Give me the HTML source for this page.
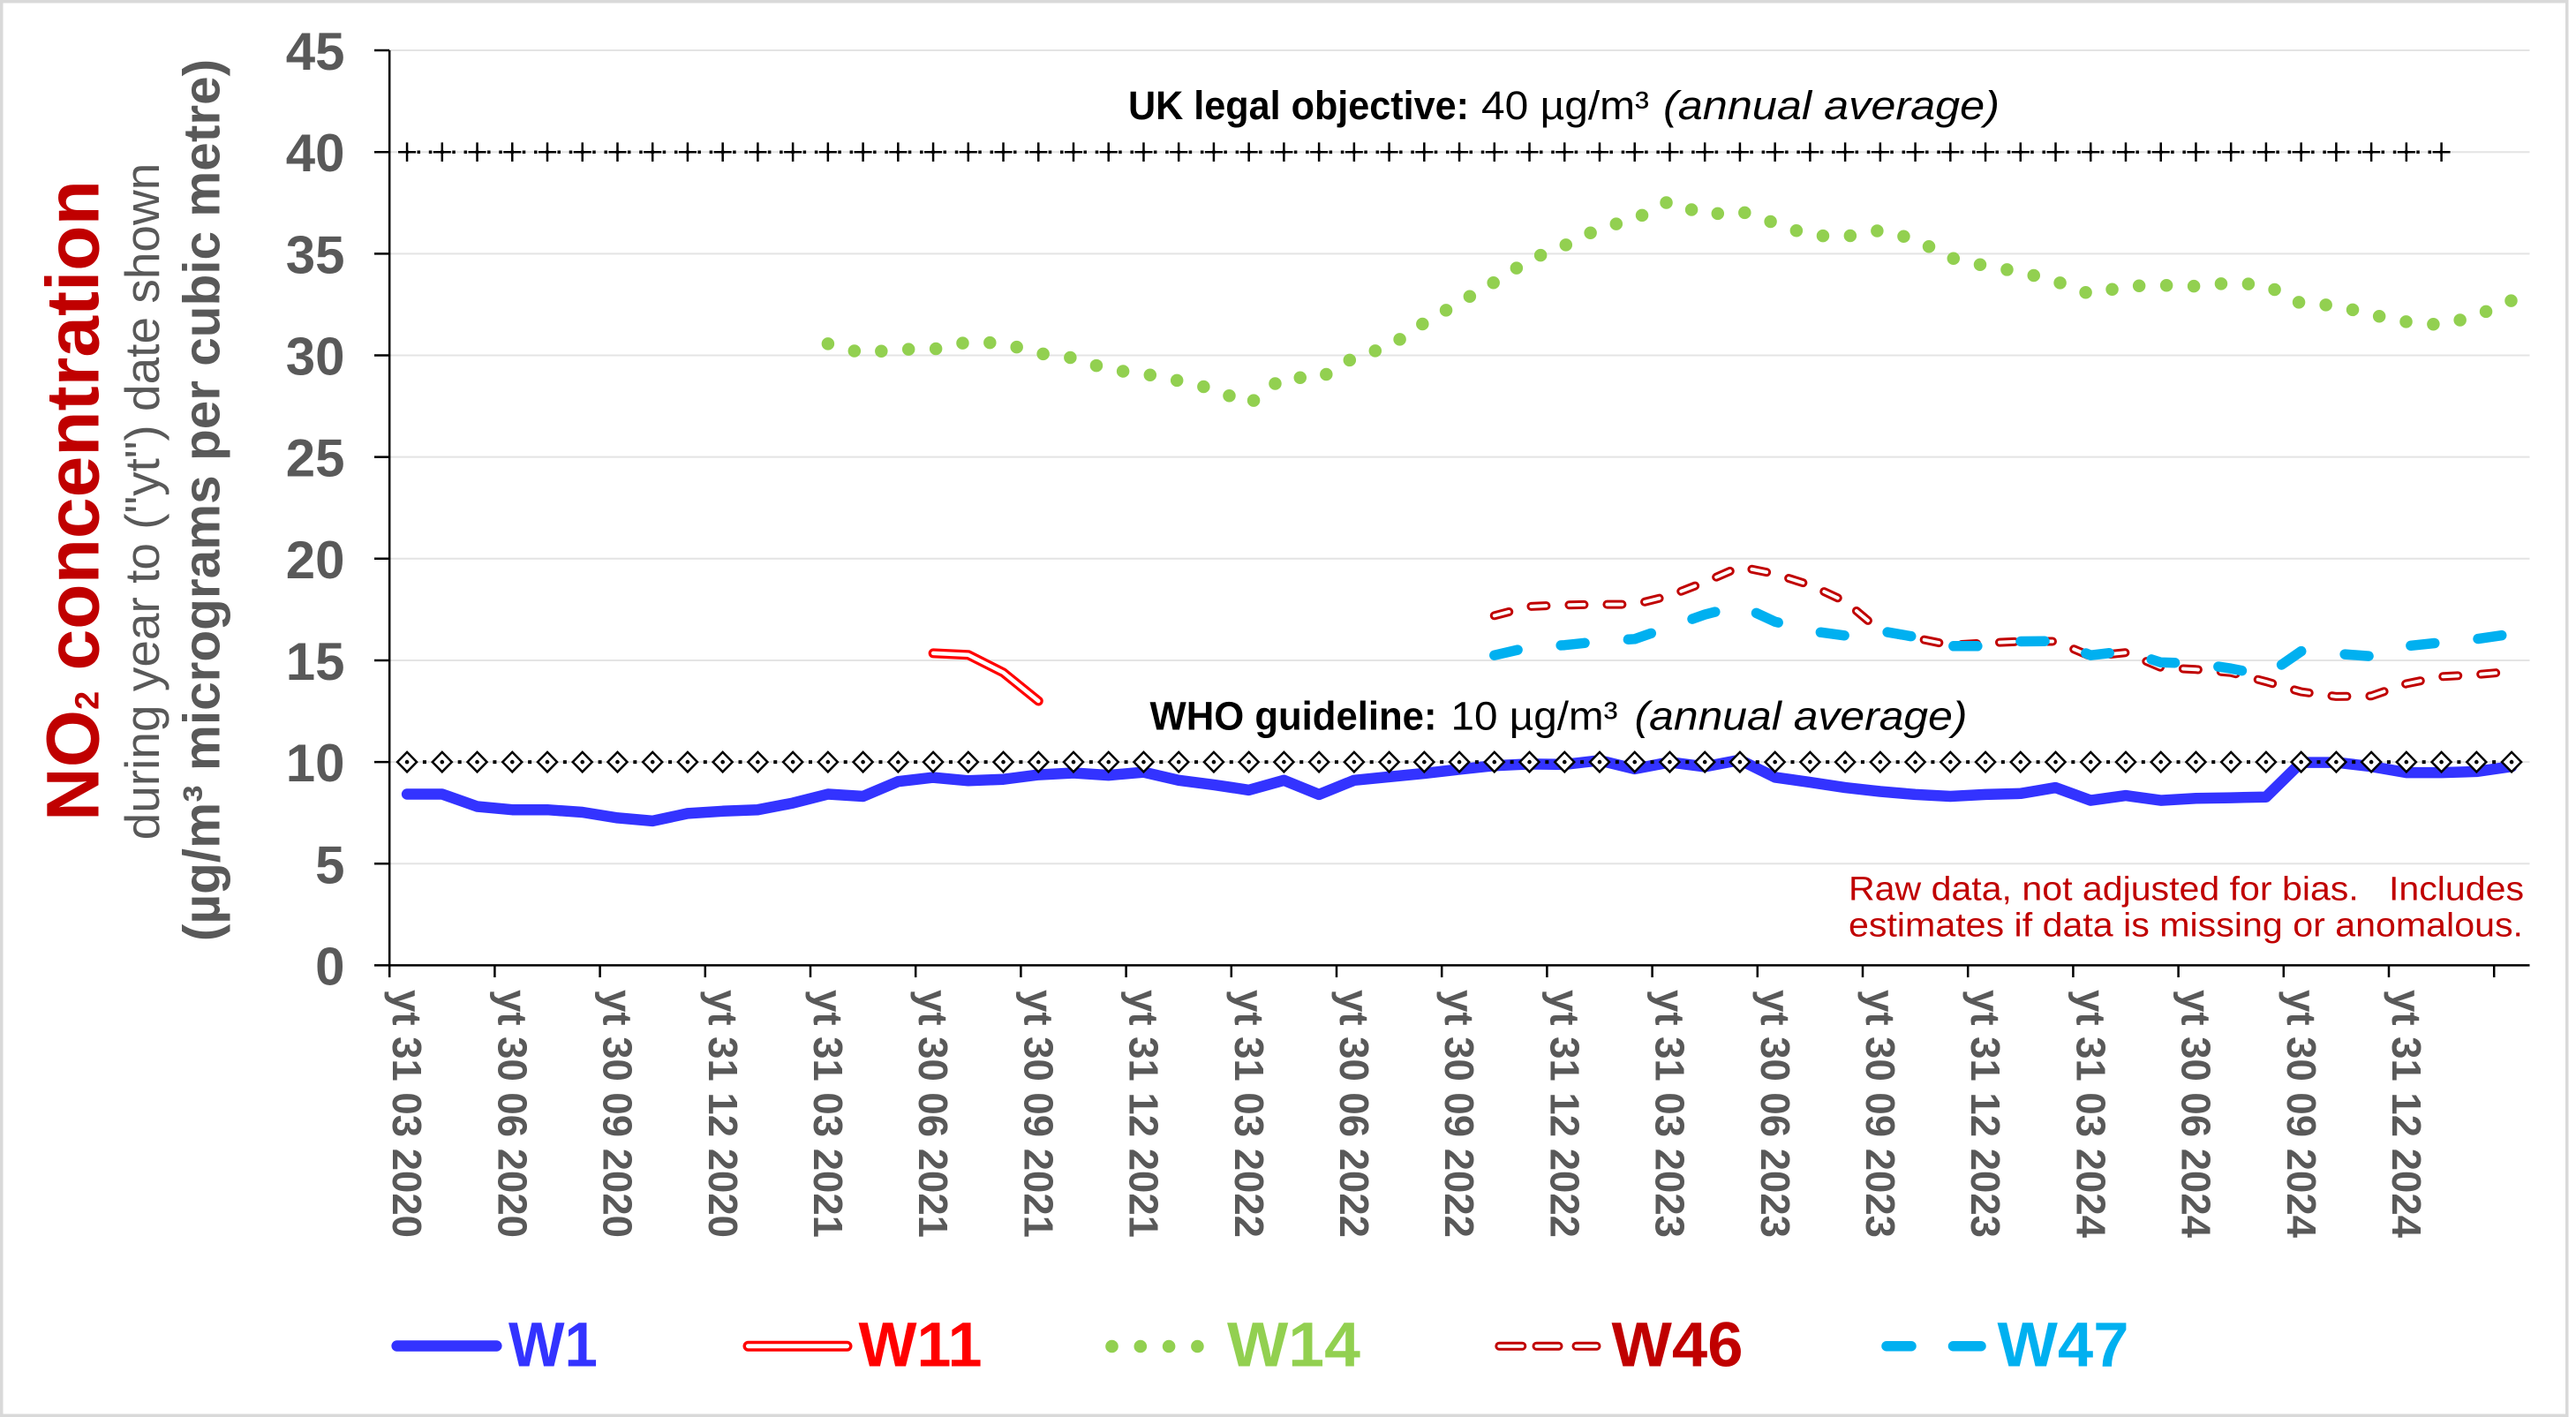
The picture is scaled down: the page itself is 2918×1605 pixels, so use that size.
<!DOCTYPE html>
<html><head><meta charset="utf-8"><title>NO2 concentration chart</title>
<style>
html,body{margin:0;padding:0;background:#fff;}
svg{display:block;font-family:"Liberation Sans",Arial,sans-serif;}
</style></head>
<body>
<svg xmlns="http://www.w3.org/2000/svg" width="2918" height="1605" viewBox="0 0 2918 1605">
<defs>
<marker id="plus" markerUnits="userSpaceOnUse" markerWidth="30" markerHeight="30" refX="15" refY="15" orient="0" overflow="visible">
<path d="M15 4.2V25.8M5 15H25" stroke="#000" stroke-width="2.5" stroke-dasharray="none" fill="none"/>
</marker>
<marker id="dia" markerUnits="userSpaceOnUse" markerWidth="30" markerHeight="30" refX="15" refY="15" orient="0" overflow="visible">
<path d="M15 3.8L26 15L15 26.2L4 15Z" fill="#fff" stroke="#000" stroke-width="2.5" stroke-dasharray="none"/>
<circle cx="15" cy="15" r="2.3" fill="#000"/>
</marker>
</defs>
<rect x="0" y="0" width="2918" height="1605" fill="#fff"/>
<rect x="1.75" y="1.75" width="2906" height="1601.5" fill="none" stroke="#D9D9D9" stroke-width="3.5"/>

<!-- gridlines -->
<g stroke="#E4E4E4" stroke-width="2" fill="none">
<path d="M442 57.05H2865.5M442 172.2H2865.5M442 287.35H2865.5M442 402.5H2865.5M442 517.65H2865.5M442 632.8H2865.5M442 747.95H2865.5M442 863.1H2865.5M442 978.25H2865.5"/>
</g>

<!-- Y axis title -->
<text transform="translate(111.7 567) rotate(-90)" text-anchor="middle" font-size="84" font-weight="bold" fill="#C00000">NO<tspan font-size="38">2</tspan> concentration</text>
<text transform="translate(180 568) rotate(-90)" text-anchor="middle" font-size="55" fill="#595959">during year to ("yt") date shown</text>
<text transform="translate(248.3 566.5) rotate(-90)" text-anchor="middle" font-size="58.5" font-weight="bold" fill="#595959">(&#181;g/m&#179; micrograms per cubic metre)</text>

<!-- Y tick labels -->
<g font-size="60" font-weight="bold" fill="#595959" text-anchor="end">
<text x="390.5" y="79.05">45</text>
<text x="390.5" y="194.2">40</text>
<text x="390.5" y="309.35">35</text>
<text x="390.5" y="424.5">30</text>
<text x="390.5" y="539.65">25</text>
<text x="390.5" y="654.8">20</text>
<text x="390.5" y="770">15</text>
<text x="390.5" y="885.1">10</text>
<text x="390.5" y="1000.25">5</text>
<text x="390.5" y="1115.4">0</text>
</g>

<!-- W1 -->
<path fill="none" stroke="#3333FF" stroke-width="12.5" stroke-linecap="round" stroke-linejoin="round" d="M461.1 899.5 L500.8 899.5 L540.5 913.5 L580.3 917.2 L620.0 917.2 L659.7 920.0 L699.5 926.4 L739.2 929.9 L778.9 921.4 L818.7 918.8 L858.4 917.2 L898.1 909.6 L937.9 899.5 L977.6 902.0 L1017.3 885.2 L1057.1 880.6 L1096.8 884.3 L1136.5 882.7 L1176.3 877.6 L1216.0 875.5 L1255.7 878.1 L1295.5 874.6 L1335.2 883.8 L1374.9 888.9 L1414.7 894.9 L1454.4 883.8 L1494.1 899.9 L1533.9 883.8 L1573.6 879.9 L1613.3 876.0 L1653.1 871.4 L1692.8 867.2 L1732.5 865.4 L1772.3 865.9 L1812.0 861.3 L1851.7 870.9 L1891.5 863.3 L1931.2 868.4 L1970.9 860.8 L2010.7 880.4 L2050.4 886.1 L2090.1 892.1 L2129.9 896.5 L2169.6 899.9 L2209.3 902.0 L2249.1 899.9 L2288.8 898.8 L2328.5 892.1 L2368.3 906.6 L2408.0 901.1 L2447.7 906.6 L2487.5 904.3 L2527.2 903.6 L2566.9 902.7 L2606.7 863.6 L2646.4 863.6 L2686.1 868.2 L2725.9 875.1 L2765.6 875.1 L2805.3 873.9 L2845.1 868.2"/>

<!-- W11 -->
<path fill="none" stroke="#FF0000" stroke-width="11" stroke-linecap="round" stroke-linejoin="round" d="M1057.1 739.9 L1096.8 741.7 L1136.5 761.8 L1176.3 794.0"/>
<path fill="none" stroke="#FFFFFF" stroke-width="4.5" stroke-linecap="round" stroke-linejoin="round" d="M1057.1 739.9 L1096.8 741.7 L1136.5 761.8 L1176.3 794.0"/>

<!-- W14 -->
<path fill="none" stroke="#92D050" stroke-width="14.5" stroke-linecap="round" stroke-linejoin="round" stroke-dasharray="0 31" d="M937.9 389.4 L977.6 400.2 L1017.3 395.6 L1057.1 395.6 L1096.8 387.3 L1136.5 388.7 L1176.3 400.2 L1216.0 405.5 L1255.7 418.6 L1295.5 423.2 L1335.2 431.3 L1374.9 440.7 L1414.7 457.8 L1454.4 426.7 L1494.1 429.0 L1533.9 404.8 L1573.6 392.4 L1613.3 365.7 L1653.1 342.6 L1692.8 319.6 L1732.5 294.3 L1772.3 278.1 L1812.0 258.6 L1851.7 248.2 L1891.5 227.5 L1931.2 243.6 L1970.9 239.0 L2010.7 252.8 L2050.4 266.6 L2090.1 268.0 L2129.9 260.9 L2169.6 271.2 L2209.3 292.0 L2249.1 301.2 L2288.8 308.1 L2328.5 318.4 L2368.3 333.4 L2408.0 324.2 L2447.7 323.0 L2487.5 324.2 L2527.2 320.3 L2566.9 323.0 L2606.7 343.8 L2646.4 346.1 L2686.1 356.4 L2725.9 364.5 L2765.6 368.0 L2805.3 357.6 L2845.1 340.3"/>

<!-- W46 -->
<path fill="none" stroke="#C00000" stroke-width="10" stroke-linecap="round" stroke-linejoin="round" stroke-dasharray="17 26" d="M1692.8 697.3 L1732.5 686.9 L1772.3 685.3 L1812.0 684.6 L1851.7 684.6 L1891.5 674.7 L1931.2 659.3 L1970.9 642.0 L2010.7 650.1 L2050.4 662.7 L2090.1 681.2 L2129.9 714.6 L2169.6 722.6 L2209.3 730.7 L2249.1 728.4 L2288.8 726.5 L2328.5 726.5 L2368.3 743.3 L2408.0 739.2 L2447.7 756.0 L2487.5 758.3 L2527.2 761.8 L2566.9 772.1 L2606.7 783.6 L2646.4 788.9 L2686.1 788.3 L2725.9 774.4 L2765.6 766.4 L2805.3 764.1 L2845.1 760.6"/>
<path fill="none" stroke="#FFFFFF" stroke-width="4" stroke-linecap="round" stroke-linejoin="round" stroke-dasharray="17 26" d="M1692.8 697.3 L1732.5 686.9 L1772.3 685.3 L1812.0 684.6 L1851.7 684.6 L1891.5 674.7 L1931.2 659.3 L1970.9 642.0 L2010.7 650.1 L2050.4 662.7 L2090.1 681.2 L2129.9 714.6 L2169.6 722.6 L2209.3 730.7 L2249.1 728.4 L2288.8 726.5 L2328.5 726.5 L2368.3 743.3 L2408.0 739.2 L2447.7 756.0 L2487.5 758.3 L2527.2 761.8 L2566.9 772.1 L2606.7 783.6 L2646.4 788.9 L2686.1 788.3 L2725.9 774.4 L2765.6 766.4 L2805.3 764.1 L2845.1 760.6"/>

<!-- W47 -->
<path fill="none" stroke="#00B0F0" stroke-width="11.5" stroke-linecap="round" stroke-linejoin="round" stroke-dasharray="27 49.5" d="M1692.8 742.2 L1732.5 733.0 L1772.3 730.7 L1812.0 726.5 L1851.7 723.8 L1891.5 710.0 L1931.2 696.1 L1970.9 685.8 L2010.7 704.2 L2050.4 714.6 L2090.1 719.9 L2129.9 714.6 L2169.6 721.5 L2209.3 731.8 L2249.1 731.8 L2288.8 726.5 L2328.5 726.1 L2368.3 742.2 L2408.0 737.6 L2447.7 750.3 L2487.5 751.4 L2527.2 757.2 L2566.9 765.2 L2606.7 737.6 L2646.4 740.4 L2686.1 743.3 L2725.9 731.8 L2765.6 727.7 L2805.3 723.8 L2845.1 718.0"/>

<!-- WHO guideline line -->
<path fill="none" stroke="#000" stroke-width="4" stroke-dasharray="4 15.866" stroke-dashoffset="2" marker-start="url(#dia)" marker-mid="url(#dia)" marker-end="url(#dia)" d="M461.07 863.1 h39.733 h39.733 h39.733 h39.733 h39.733 h39.733 h39.733 h39.733 h39.733 h39.733 h39.733 h39.733 h39.733 h39.733 h39.733 h39.733 h39.733 h39.733 h39.733 h39.733 h39.733 h39.733 h39.733 h39.733 h39.733 h39.733 h39.733 h39.733 h39.733 h39.733 h39.733 h39.733 h39.733 h39.733 h39.733 h39.733 h39.733 h39.733 h39.733 h39.733 h39.733 h39.733 h39.733 h39.733 h39.733 h39.733 h39.733 h39.733 h39.733 h39.733 h39.733 h39.733 h39.733 h39.733 h39.733 h39.733 h39.733 h39.733 h39.733 h39.733"/>

<!-- UK legal objective line -->
<path fill="none" stroke="#000" stroke-width="3.5" stroke-dasharray="3.5 9.744" stroke-dashoffset="1.75" marker-start="url(#plus)" marker-mid="url(#plus)" marker-end="url(#plus)" d="M461.07 172.2 h39.733 h39.733 h39.733 h39.733 h39.733 h39.733 h39.733 h39.733 h39.733 h39.733 h39.733 h39.733 h39.733 h39.733 h39.733 h39.733 h39.733 h39.733 h39.733 h39.733 h39.733 h39.733 h39.733 h39.733 h39.733 h39.733 h39.733 h39.733 h39.733 h39.733 h39.733 h39.733 h39.733 h39.733 h39.733 h39.733 h39.733 h39.733 h39.733 h39.733 h39.733 h39.733 h39.733 h39.733 h39.733 h39.733 h39.733 h39.733 h39.733 h39.733 h39.733 h39.733 h39.733 h39.733 h39.733 h39.733 h39.733 h39.733"/>

<!-- Annotations -->
<g font-size="45" fill="#000">
<text x="1278" y="135" font-weight="bold" textLength="386" lengthAdjust="spacingAndGlyphs">UK legal objective:</text>
<text x="1678" y="135" textLength="190" lengthAdjust="spacingAndGlyphs">40 &#181;g/m&#179;</text>
<text x="1884" y="135" font-style="italic" textLength="381" lengthAdjust="spacingAndGlyphs">(annual average)</text>
<text x="1302.5" y="826.5" font-weight="bold" textLength="325" lengthAdjust="spacingAndGlyphs">WHO guideline:</text>
<text x="1643.5" y="826.5" textLength="189" lengthAdjust="spacingAndGlyphs">10 &#181;g/m&#179;</text>
<text x="1851.5" y="826.5" font-style="italic" textLength="377" lengthAdjust="spacingAndGlyphs">(annual average)</text>
</g>

<g font-size="38" fill="#C00000">
<text x="2094" y="1019.3" xml:space="preserve" textLength="765" lengthAdjust="spacingAndGlyphs">Raw data, not adjusted for bias.&#160;&#160;&#160;Includes</text>
<text x="2094" y="1060.7" textLength="764" lengthAdjust="spacingAndGlyphs">estimates if data is missing or anomalous.</text>
</g>

<!-- Axes -->
<g stroke="#000" stroke-width="2.5" fill="none">
<path d="M441.2 57 V1093.4"/>
<path d="M424 1093.4 H2865.5"/>
<path d="M424 57.05H441.2M424 172.2H441.2M424 287.35H441.2M424 402.5H441.2M424 517.65H441.2M424 632.8H441.2M424 747.95H441.2M424 863.1H441.2M424 978.25H441.2"/>
<path d="M441.2 1093.4V1107M560.4 1093.4V1107M679.6 1093.4V1107M798.8 1093.4V1107M918.0 1093.4V1107M1037.2 1093.4V1107M1156.4 1093.4V1107M1275.6 1093.4V1107M1394.8 1093.4V1107M1514.0 1093.4V1107M1633.2 1093.4V1107M1752.4 1093.4V1107M1871.6 1093.4V1107M1990.8 1093.4V1107M2110.0 1093.4V1107M2229.2 1093.4V1107M2348.4 1093.4V1107M2467.6 1093.4V1107M2586.8 1093.4V1107M2706.0 1093.4V1107M2825.2 1093.4V1107"/>
</g>

<!-- X labels -->
<g font-size="46" font-weight="bold" fill="#595959">
<text transform="translate(445.2 1121) rotate(90)" textLength="281" lengthAdjust="spacingAndGlyphs">yt 31 03 2020</text>
<text transform="translate(564.4 1121) rotate(90)" textLength="281" lengthAdjust="spacingAndGlyphs">yt 30 06 2020</text>
<text transform="translate(683.6 1121) rotate(90)" textLength="281" lengthAdjust="spacingAndGlyphs">yt 30 09 2020</text>
<text transform="translate(802.8 1121) rotate(90)" textLength="281" lengthAdjust="spacingAndGlyphs">yt 31 12 2020</text>
<text transform="translate(922.0 1121) rotate(90)" textLength="281" lengthAdjust="spacingAndGlyphs">yt 31 03 2021</text>
<text transform="translate(1041.2 1121) rotate(90)" textLength="281" lengthAdjust="spacingAndGlyphs">yt 30 06 2021</text>
<text transform="translate(1160.4 1121) rotate(90)" textLength="281" lengthAdjust="spacingAndGlyphs">yt 30 09 2021</text>
<text transform="translate(1279.6 1121) rotate(90)" textLength="281" lengthAdjust="spacingAndGlyphs">yt 31 12 2021</text>
<text transform="translate(1398.8 1121) rotate(90)" textLength="281" lengthAdjust="spacingAndGlyphs">yt 31 03 2022</text>
<text transform="translate(1518.0 1121) rotate(90)" textLength="281" lengthAdjust="spacingAndGlyphs">yt 30 06 2022</text>
<text transform="translate(1637.2 1121) rotate(90)" textLength="281" lengthAdjust="spacingAndGlyphs">yt 30 09 2022</text>
<text transform="translate(1756.4 1121) rotate(90)" textLength="281" lengthAdjust="spacingAndGlyphs">yt 31 12 2022</text>
<text transform="translate(1875.6 1121) rotate(90)" textLength="281" lengthAdjust="spacingAndGlyphs">yt 31 03 2023</text>
<text transform="translate(1994.8 1121) rotate(90)" textLength="281" lengthAdjust="spacingAndGlyphs">yt 30 06 2023</text>
<text transform="translate(2114.0 1121) rotate(90)" textLength="281" lengthAdjust="spacingAndGlyphs">yt 30 09 2023</text>
<text transform="translate(2233.2 1121) rotate(90)" textLength="281" lengthAdjust="spacingAndGlyphs">yt 31 12 2023</text>
<text transform="translate(2352.4 1121) rotate(90)" textLength="281" lengthAdjust="spacingAndGlyphs">yt 31 03 2024</text>
<text transform="translate(2471.6 1121) rotate(90)" textLength="281" lengthAdjust="spacingAndGlyphs">yt 30 06 2024</text>
<text transform="translate(2590.8 1121) rotate(90)" textLength="281" lengthAdjust="spacingAndGlyphs">yt 30 09 2024</text>
<text transform="translate(2710.0 1121) rotate(90)" textLength="281" lengthAdjust="spacingAndGlyphs">yt 31 12 2024</text>
</g>

<!-- Legend -->
<path d="M449.6 1524.5H562.4" stroke="#3333FF" stroke-width="12.4" stroke-linecap="round" fill="none"/>
<path d="M847.5 1524.7H959.5" stroke="#FF0000" stroke-width="12" stroke-linecap="round" fill="none"/>
<path d="M847.5 1524.7H959.5" stroke="#FFFFFF" stroke-width="5" stroke-linecap="round" fill="none"/>
<g fill="#92D050">
<circle cx="1259.5" cy="1525" r="7.3"/>
<circle cx="1291.8" cy="1525" r="7.3"/>
<circle cx="1324.1" cy="1525" r="7.3"/>
<circle cx="1356.4" cy="1525" r="7.3"/>
</g>
<path d="M1698.3 1524.7H1724.3M1740.5 1524.7H1765.5M1785.5 1524.7H1808.5" stroke="#C00000" stroke-width="10" stroke-linecap="round" fill="none"/>
<path d="M1698.3 1524.7H1724.3M1740.5 1524.7H1765.5M1785.5 1524.7H1808.5" stroke="#FFFFFF" stroke-width="4" stroke-linecap="round" fill="none"/>
<path d="M2137 1524.7H2165M2212.5 1524.7H2244" stroke="#00B0F0" stroke-width="11.5" stroke-linecap="round" fill="none"/>

<g font-size="71" font-weight="bold">
<text x="576" y="1547.7" fill="#3333FF" textLength="101" lengthAdjust="spacingAndGlyphs">W1</text>
<text x="972.5" y="1547.7" fill="#FF0000" textLength="140" lengthAdjust="spacingAndGlyphs">W11</text>
<text x="1390" y="1547.7" fill="#92D050" textLength="151" lengthAdjust="spacingAndGlyphs">W14</text>
<text x="1825.5" y="1547.7" fill="#C00000" textLength="149" lengthAdjust="spacingAndGlyphs">W46</text>
<text x="2262.5" y="1547.7" fill="#00B0F0" textLength="149" lengthAdjust="spacingAndGlyphs">W47</text>
</g>
</svg>
</body></html>
